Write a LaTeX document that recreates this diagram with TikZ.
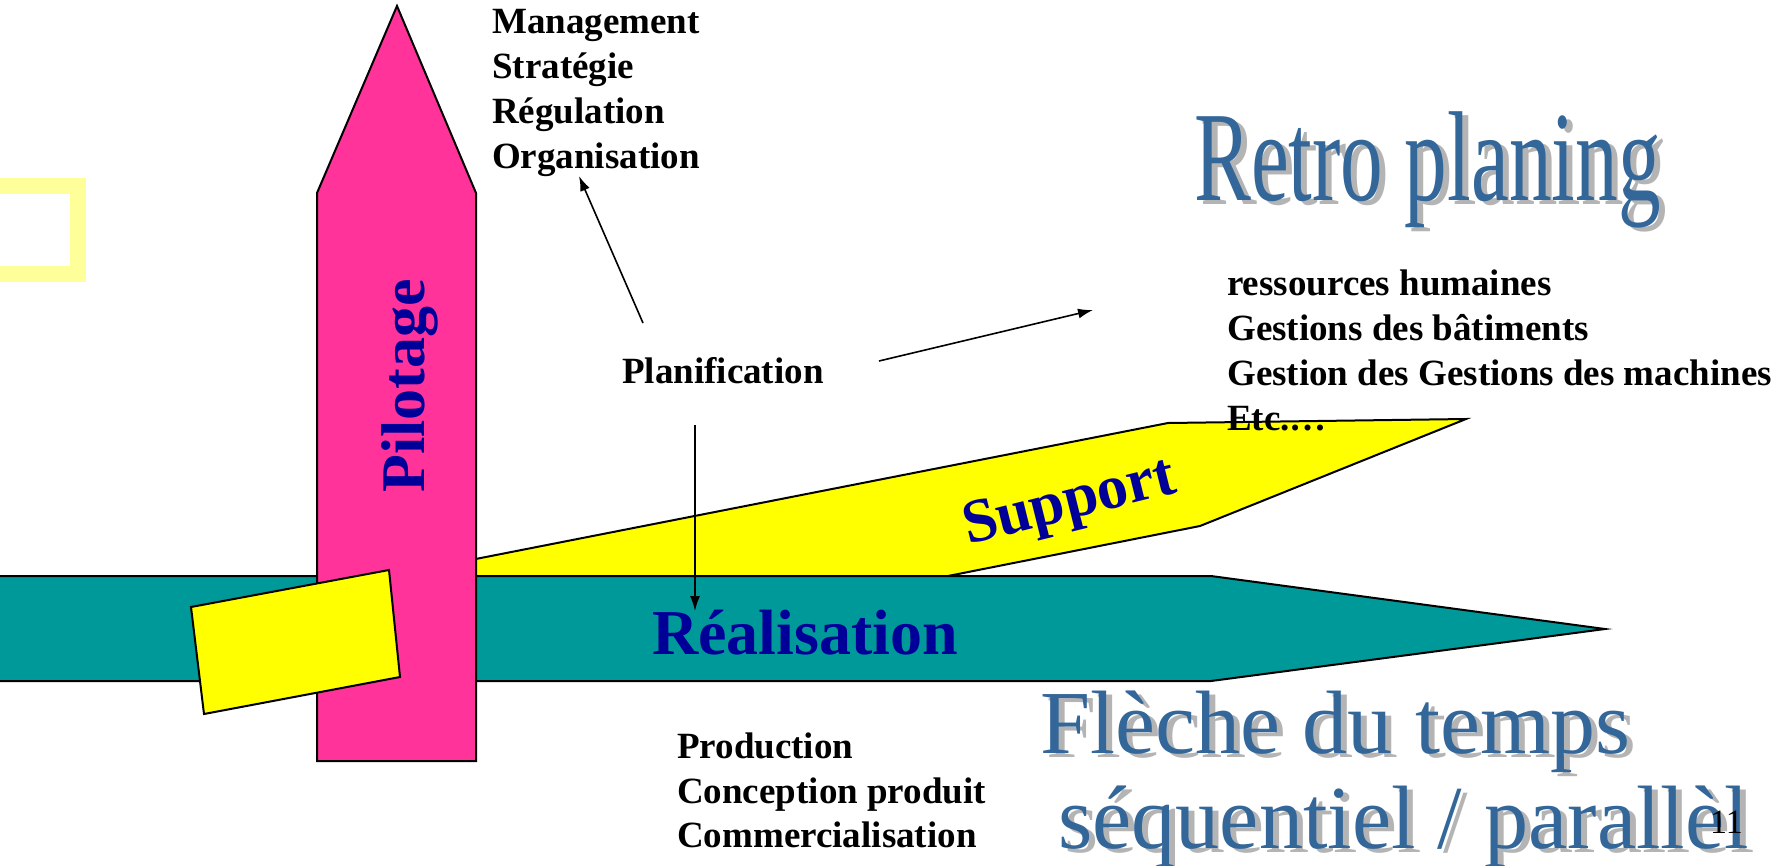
\documentclass[tikz,border=0pt]{standalone}
\usepackage{fontspec}
\setmainfont{Liberation Serif}
\usetikzlibrary{arrows.meta}
\definecolor{pinkP}{HTML}{FF3399}
\definecolor{tealR}{HTML}{009999}
\definecolor{yelS}{HTML}{FFFF00}
\definecolor{paleY}{HTML}{FFFF99}
\definecolor{navyT}{HTML}{000099}
\definecolor{wordBlue}{HTML}{336699}
\definecolor{wordShadow}{HTML}{B4B4B4}
\begin{document}
\begin{tikzpicture}[x=1pt,y=-1pt,
  shapeline/.style={draw=black,line width=2pt,line join=miter},
  listtxt/.style={anchor=base west,inner sep=0pt,font=\bfseries\fontsize{37}{45}\selectfont},
  bigtxt/.style={inner sep=0pt,text=navyT,font=\bfseries\fontsize{62}{62}\selectfont},
  wordart/.style={anchor=base west,inner sep=0pt,text=wordBlue},
  wordshadow/.style={anchor=base west,inner sep=0pt,text=wordShadow},
  arr/.style={-{Latex[length=15pt,width=10pt]},line width=1.6pt}]
\useasboundingbox[fill=white] (0,0) rectangle (1779,865);

% pale yellow hollow square
\draw[paleY,line width=16pt,line join=miter] (-30,186) rectangle (78,274);

% Support arrow
\filldraw[shapeline,fill=yelS] (440,566) -- (1168,423) -- (1466,419) -- (1200,526) -- (948,576) -- (440,576) -- cycle;
% Realisation arrow
\filldraw[shapeline,fill=tealR] (-5,576) -- (1211,576) -- (1605,629) -- (1211,681) -- (-5,681) -- cycle;
% Pilotage arrow
\filldraw[shapeline,fill=pinkP] (317,761) -- (317,193) -- (397,6) -- (476,193) -- (476,761) -- cycle;
% small yellow card
\filldraw[shapeline,fill=yelS] (191,607) -- (389,570) -- (400,677) -- (204,714) -- cycle;

% labels in shapes
\node[bigtxt,rotate=90,anchor=base west] (pil) at (424,493) {Pilotage};
\node[bigtxt,anchor=base west,font=\bfseries\fontsize{64}{64}\selectfont] (real) at (652,654) {Réalisation};
\node[bigtxt,rotate=14] (sup) at (1070,505) {Support};

% word art titles
\node[wordshadow,xscale=0.666,font=\fontsize{128}{128}\selectfont] (retroS) at (1200,204) {Retro planing};
\node[wordart,xscale=0.666,font=\fontsize{128}{128}\selectfont] (retro) at (1194,200) {Retro planing};
\node[wordshadow,xscale=1.0,font=\fontsize{90}{90}\selectfont] (fl1S) at (1046,757) {Flèche du temps};
\node[wordart,xscale=1.0,font=\fontsize{90}{90}\selectfont] (fl1) at (1040,753) {Flèche du temps};
\node[wordshadow,xscale=0.98,font=\fontsize{90}{90}\selectfont] (fl2S) at (1064,852) {séquentiel / parallèl};
\node[wordart,xscale=0.98,font=\fontsize{90}{90}\selectfont] (fl2) at (1058,848) {séquentiel / parallèl};
\node[anchor=base west,inner sep=0pt,font=\fontsize{34}{34}\selectfont] (pg) at (1710,833) {11};

% lists
\node[listtxt] (m1) at (492,33) {Management};
\node[listtxt] (m2) at (492,78) {Stratégie};
\node[listtxt] (m3) at (492,123) {Régulation};
\node[listtxt] (m4) at (492,168) {Organisation};
\node[listtxt] (plan) at (622,383) {Planification};
\node[listtxt] (r1) at (1227,295) {ressources humaines};
\node[listtxt] (r2) at (1227,340) {Gestions des bâtiments};
\node[listtxt] (r3) at (1227,385) {Gestion des Gestions des machines};
\node[listtxt] (r4) at (1227,430) {Etc.…};
\node[listtxt] (p1) at (677,758) {Production};
\node[listtxt] (p2) at (677,803) {Conception produit};
\node[listtxt] (p3) at (677,847) {Commercialisation};

% arrows
\coordinate (aUs) at (643,323);
\coordinate (aUe) at (579,176);
\coordinate (aRs) at (879,361);
\coordinate (aRe) at (1093,310);
\coordinate (aDs) at (695,425);
\coordinate (aDe) at (695,611);
\draw[arr] (aUs) -- (aUe);
\draw[arr] (aRs) -- (aRe);
\draw[arr] (aDs) -- (aDe);
\end{tikzpicture}
\end{document}
